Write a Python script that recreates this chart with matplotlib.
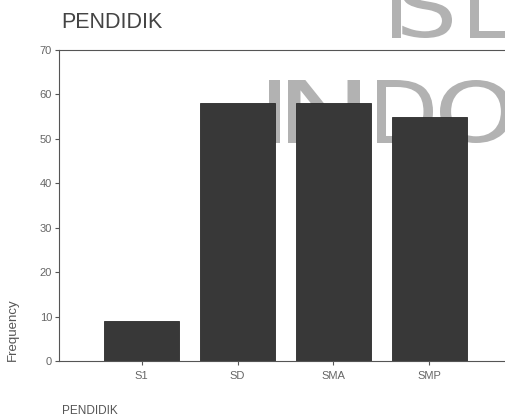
import matplotlib

matplotlib.use("Agg")
import matplotlib.pyplot as plt
from matplotlib.patches import PathPatch
from matplotlib.path import Path
from matplotlib.textpath import TextPath
from matplotlib.font_manager import FontProperties

# values
categories = ["S1", "SD", "SMA", "SMP"]
frequency = [9, 58, 58, 55]
y_ticks = [0, 10, 20, 30, 40, 50, 60, 70]

# watermark letters on the scan: (letter, x0, x1, y_top, y_bottom) in pixels
watermark = [
    ("I", 392, 401, -25, 38), ("S", 402, 452, -25, 38), ("L", 470, 510, -25, 38),
    ("I", 269, 280, 80, 143), ("N", 288, 360, 80, 143),
    ("D", 377, 433, 80, 143), ("O", 440, 512, 80, 143),
]

plt.rcParams["font.family"] = ["Liberation Sans", "DejaVu Sans"]

W, H = 505, 420
fig = plt.figure(figsize=(W / 100, H / 100), dpi=100)

# background layer in pixel coords for the watermark (sits behind the bars)
bg = fig.add_axes([0, 0, 1, 1], zorder=0)
bg.set_xlim(0, W)
bg.set_ylim(H, 0)
bg.axis("off")
fp = FontProperties(family="DejaVu Sans")
for ch, x0, x1, yt, yb in watermark:
    tp = TextPath((0, 0), ch, size=100, prop=fp)
    v = tp.vertices.copy()
    ext = tp.get_extents()
    u = (v[:, 0] - ext.x0) / ext.width
    w = (v[:, 1] - ext.y0) / ext.height
    v[:, 0] = x0 + u * (x1 - x0)
    v[:, 1] = yb - w * (yb - yt)
    bg.add_patch(PathPatch(Path(v, tp.codes), facecolor="#b2b2b2", edgecolor="none"))

# axes box in pixel coords: left spine x=59, top (70) y=50, bottom (0) y=361
left, right, top, bottom = 59, 512, 50, 361
ax = fig.add_axes([left / W, 1 - bottom / H, (right - left) / W, (bottom - top) / H], zorder=1)
ax.patch.set_alpha(0)

x = list(range(len(categories)))
ax.bar(x, frequency, width=0.78, color="#383838", edgecolor="#2a2a2a", lw=0.6, zorder=2)

ax.set_xlim(-0.86, 3.86)
ax.set_ylim(0, 70)
ax.set_yticks(y_ticks)
ax.set_xticks(x)
ax.set_xticklabels(categories)

for side in ("left", "top", "bottom"):
    ax.spines[side].set_color("#555555")
    ax.spines[side].set_linewidth(0.8)
ax.spines["top"].set_linestyle((0, (6, 1)))
ax.spines["right"].set_visible(False)

ax.tick_params(axis="both", colors="#555555", labelcolor="#666666", labelsize=8,
               length=3, width=0.8, pad=2)
ax.tick_params(axis="x", pad=4)

ax.set_ylabel("Frequency", fontsize=9.5, color="#555555")
ax.yaxis.set_label_coords(-0.088, 0.0, transform=ax.transAxes)
ax.yaxis.label.set_horizontalalignment("left")

fig.text(61 / W, 1 - 22 / H, "PENDIDIK", fontsize=15.5, color="#444444", va="center", ha="left")
fig.text(62 / W, 1 - 411 / H, "PENDIDIK", fontsize=8.5, color="#555555", va="center", ha="left")

fig.savefig("out.png", dpi=100)
